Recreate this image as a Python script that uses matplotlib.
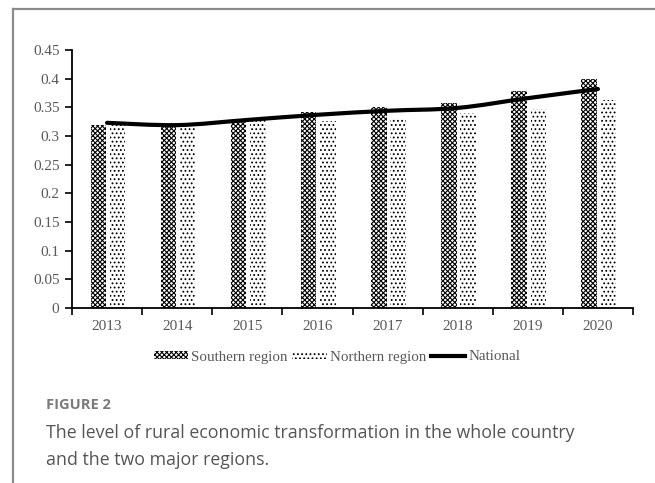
import numpy as np
import matplotlib
matplotlib.use("Agg")
import matplotlib.pyplot as plt
from matplotlib.path import Path
from matplotlib.patches import PathPatch, Rectangle
from matplotlib.lines import Line2D

years = ["2013", "2014", "2015", "2016", "2017", "2018", "2019", "2020"]
southern = [0.320, 0.319, 0.328, 0.342, 0.350, 0.358, 0.379, 0.399]
northern = [0.320, 0.318, 0.329, 0.327, 0.331, 0.340, 0.347, 0.362]
national = [0.323, 0.319, 0.328, 0.337, 0.344, 0.349, 0.366, 0.382]

plt.rcParams["hatch.linewidth"] = 0.8
serif = ["Liberation Serif", "DejaVu Serif"]
txt = "#595959"
south_hatch = "xxxxxxx"
north_hatch = "...."

fig = plt.figure(figsize=(6.55, 4.83), dpi=100)

# grey frame around the figure block
fig.add_artist(Line2D([13 / 655, 1.0], [1 - 8.5 / 483] * 2, color="#8c8c8c", lw=1.6))
fig.add_artist(Line2D([13 / 655] * 2, [0.0, 1 - 8.5 / 483], color="#8c8c8c", lw=1.6))

ax = fig.add_axes([72 / 655, 1 - 308 / 483, 561 / 655, 258 / 483])
x = np.arange(len(years))
w = 0.22
ax.bar(x - 0.125, southern, w, color="white", edgecolor="black", linewidth=0,
       hatch=south_hatch, label="Southern region")
ax.bar(x + 0.15, northern, w, color="white", edgecolor="black", linewidth=0,
       hatch=north_hatch, label="Northern region")


def smooth_path(xs, ys, t=0.5):
    # cubic bezier through the points (Excel-style smoothed line)
    pts = np.column_stack([xs, ys])
    verts = [pts[0]]
    codes = [Path.MOVETO]
    n = len(pts)
    for i in range(n - 1):
        p0 = pts[max(i - 1, 0)]
        p1 = pts[i]
        p2 = pts[i + 1]
        p3 = pts[min(i + 2, n - 1)]
        c1 = p1 + (p2 - p0) * t / 3
        c2 = p2 - (p3 - p1) * t / 3
        verts += [c1, c2, p2]
        codes += [Path.CURVE4] * 3
    return Path(verts, codes)


ax.add_patch(PathPatch(smooth_path(x, national), fill=False, edgecolor="black",
                       lw=3.0, capstyle="round", zorder=4))

ax.set_xlim(-0.5, len(years) - 0.5)
ax.set_ylim(0, 0.45)
ax.set_yticks(np.arange(0, 0.451, 0.05))
ax.set_yticklabels(["0", "0.05", "0.1", "0.15", "0.2", "0.25", "0.3", "0.35", "0.4", "0.45"])
ax.set_xticks(x)
ax.set_xticklabels(years)
ax.set_xticks(np.arange(-0.5, len(years)), minor=True)
ax.tick_params(axis="x", which="major", length=0, pad=9)
ax.tick_params(axis="x", which="minor", length=5, width=1.2, direction="out")
ax.tick_params(axis="y", length=5, width=1.2, direction="out", pad=4)
for lab in ax.get_xticklabels() + ax.get_yticklabels():
    lab.set_family(serif)
    lab.set_fontsize(11)
    lab.set_color(txt)
for s in ["top", "right"]:
    ax.spines[s].set_visible(False)
for s in ["left", "bottom"]:
    ax.spines[s].set_linewidth(1.3)

handles = [
    Rectangle((0, 0), 1, 1, facecolor="white", edgecolor="black", linewidth=0, hatch=south_hatch),
    Rectangle((0, 0), 1, 1, facecolor="white", edgecolor="black", linewidth=0, hatch=north_hatch),
    Line2D([], [], color="black", lw=3.0),
]
leg = fig.legend(handles, ["Southern region", "Northern region", "National"],
                 loc="center", bbox_to_anchor=(337 / 655, 1 - 357 / 483), ncol=3,
                 frameon=False, handlelength=2.3, handleheight=0.45,
                 handletextpad=0.2, columnspacing=0.3,
                 prop={"family": serif, "size": 10.8})
for t_ in leg.get_texts():
    t_.set_color(txt)

fig.text(46 / 655, 1 - 405 / 483, "FIGURE 2", family="Open Sans", weight="bold",
         fontsize=10.5, color="#7a7a7a", va="center")
fig.text(46 / 655, 1 - 433 / 483,
         "The level of rural economic transformation in the whole country",
         family="Open Sans", fontsize=12.8, color="#555555", va="center")
fig.text(46 / 655, 1 - 460 / 483, "and the two major regions.",
         family="Open Sans", fontsize=12.8, color="#555555", va="center")

fig.savefig("out.png", dpi=100)
